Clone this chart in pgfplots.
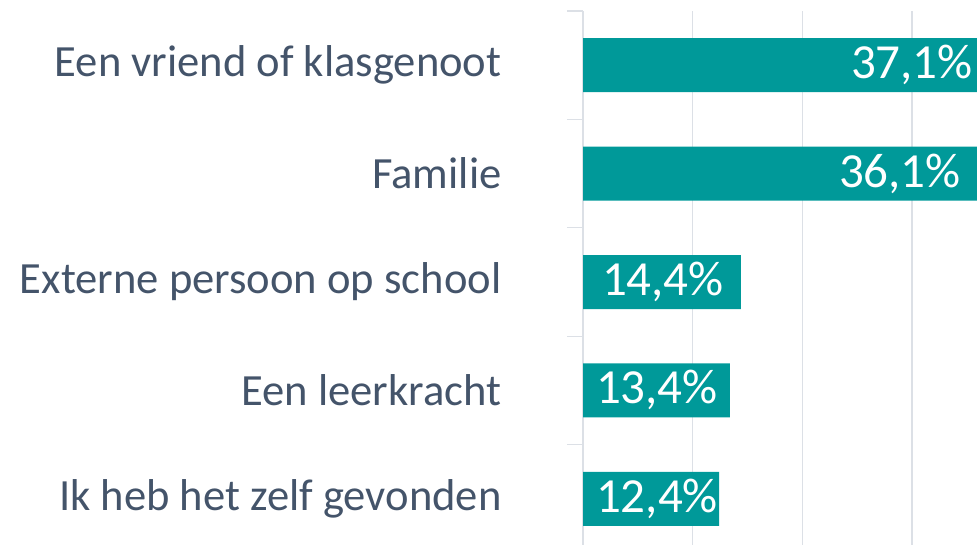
\documentclass[border=0pt]{standalone}
\usepackage{pgfplots}
\pgfplotsset{compat=1.18}
\usepackage{pgfplotstable}
\usepackage{fontspec}
\setmainfont{Carlito}
\definecolor{barteal}{HTML}{009999}
\definecolor{txtgray}{HTML}{44546A}
\definecolor{gridgray}{HTML}{DCE0E6}
\pgfplotstableread{
y val shift
1 37.1 -17
2 36.1 -18
3 14.4 -17
4 13.4 -12
5 12.4 -1
}\datatab
\begin{document}
\begin{tikzpicture}
\useasboundingbox (0,0) rectangle (977pt,-545pt);
\clip (0,0) rectangle (977pt,-545pt);
\begin{axis}[
  at={(583pt,-11pt)}, anchor=north west,
  scale only axis, width=438.8pt, height=542pt,
  xmin=0, xmax=40, ymin=0.5, ymax=5.5, y dir=reverse,
  axis lines*=left,
  x axis line style={draw=none},
  y axis line style={draw=gridgray, line width=1.3pt},
  xtick={10,20,30,40}, xticklabels={},
  xmajorgrids, grid style={draw=gridgray, line width=1.3pt},
  ytick={1,2,3,4,5},
  yticklabels={Een vriend of klasgenoot, Familie, Externe persoon op school, Een leerkracht, Ik heb het zelf gevonden},
  yticklabel style={font=\fontsize{44.6}{50}\selectfont, text=txtgray, anchor=east, xshift=-78pt},
  major tick length=0pt,
  extra y ticks={0.5,1.5,2.5,3.5,4.5}, extra y tick labels={},
  extra y tick style={major tick length=16pt, tick align=outside, tick style={draw=gridgray, line width=1.3pt}, grid=none},
  tick style={draw=gridgray, line width=1.3pt},
  xbar, bar width=54pt,
  visualization depends on={\thisrow{shift} \as \lblshift},
  nodes near coords={\pgfmathprintnumber[fixed, fixed zerofill, precision=1, use comma, assume math mode=true]{\pgfplotspointmeta}\%},
  every node near coord/.append style={anchor=east, inner sep=0pt, xshift=\lblshift pt, text=white, font=\fontsize{49}{55}\selectfont},
  clip=false,
]
\addplot[fill=barteal, draw=none] table[x=val, y=y] {\datatab};
\end{axis}
\end{tikzpicture}
\end{document}
